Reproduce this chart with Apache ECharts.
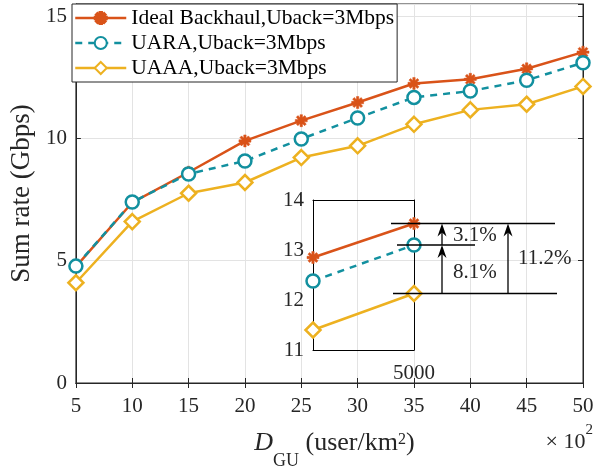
<!DOCTYPE html>
<html>
<head>
<meta charset="utf-8">
<script src="https://cdn.jsdelivr.net/npm/echarts@6/dist/echarts.min.js"></script>
<style>
  html, body { margin: 0; padding: 0; background: #fff; }
  #main { width: 605px; height: 471px; }
</style>
</head>
<body>
<div id="main"></div>
<script>
// x: D_GU in units of 10^2 user/km^2
var xValues = [5, 10, 15, 20, 25, 30, 35, 40, 45, 50];
var idealData = [4.76, 7.38, 8.62, 9.90, 10.73, 11.47, 12.25, 12.42, 12.85, 13.53];
var uaraData = [4.78, 7.40, 8.55, 9.08, 9.98, 10.84, 11.68, 11.94, 12.38, 13.10];
var uaaaData = [4.10, 6.60, 7.76, 8.20, 9.22, 9.70, 10.58, 11.17, 11.40, 12.13];
var yTicks = [0, 5, 10, 15];
var insetTicks = [11, 12, 13, 14];
var gainLabels = ['3.1%', '8.1%', '11.2%'];

var FONT = 'Liberation Serif';
var C_IDEAL = '#D95319';
var C_UARA = '#12909F';
var C_UAAA = '#EDB120';
// MATLAB-like '*' marker
var STAR = 'path://M0,4L10,4L10,6L0,6Z M4,0L6,0L6,10L4,10Z M2.2,0.8L9.2,7.8L7.8,9.2L0.8,2.2Z M9.2,2.2L2.2,9.2L0.8,7.8L7.8,0.8Z';

function pairs(xs, ys, k) {
    var out = [];
    for (var i = 0; i < xs.length; i++) out.push([xs[i] * (k || 1), ys[i]]);
    return out;
}
var insetX = xValues.slice(-2);
function lastTwo(arr) { return arr.slice(-2); }

var myChart = echarts.init(document.getElementById('main'));

var axisText = { fontFamily: FONT, fontSize: 21, color: '#262626' };
var frameLine = { show: true, lineStyle: { color: '#000', width: 1 } };

function mkSeries(name, data, color, symbol, size, dashed, xi, yi) {
    return {
        name: name,
        type: 'line',
        xAxisIndex: xi,
        yAxisIndex: yi,
        data: data,
        symbol: symbol,
        symbolSize: size,
        showSymbol: true,
        lineStyle: { color: color, width: 2.5, type: dashed ? [7, 6] : 'solid' },
        itemStyle: symbol === STAR
            ? { color: color, borderColor: color, borderWidth: 0.5 }
            : { color: '#fff', borderColor: color, borderWidth: 2.5 },
        emphasis: { disabled: true },
        z: 3,
        animation: false
    };
}

var option = {
    animation: false,
    grid: [
        { left: 72, right: 22, top: 4, bottom: 88, show: true, borderColor: '#262626', borderWidth: 1 },
        { left: 313, top: 200, width: 101, height: 150 }
    ],
    legend: {
        left: 72, top: 4, orient: 'vertical',
        itemWidth: 51, itemHeight: 15, itemGap: 3,
        padding: [3, 3, 3, 2],
        backgroundColor: '#fff', borderColor: '#262626', borderWidth: 1, borderRadius: 0,
        lineStyle: { width: 2.5 },
        textStyle: { fontFamily: FONT, fontSize: 21.5, color: '#000' },
        data: ['Ideal Backhaul,Uback=3Mbps', 'UARA,Uback=3Mbps', 'UAAA,Uback=3Mbps'],
        z: 10
    },
    xAxis: [
        {
            type: 'value', gridIndex: 0, min: 5, max: 50, interval: 5,
            axisLine: { show: true, lineStyle: { color: '#262626', width: 1 } },
            axisTick: { show: true, inside: true, length: 5, lineStyle: { color: '#262626' } },
            axisLabel: Object.assign({ margin: 13 }, axisText),
            splitLine: { show: true, lineStyle: { color: '#e3e3e3', width: 1 } }
        },
        {
            type: 'value', gridIndex: 0, position: 'top', min: 5, max: 50, interval: 5,
            axisLine: { show: true, lineStyle: { color: '#262626' } },
            axisTick: { show: true, inside: true, length: 5, lineStyle: { color: '#262626' } },
            axisLabel: { show: false }, splitLine: { show: false }
        },
        {
            type: 'value', gridIndex: 1, min: insetX[0] * 100, max: insetX[1] * 100, interval: 500,
            axisLine: frameLine,
            axisTick: { show: false },
            axisLabel: Object.assign({ margin: 13, showMinLabel: false,
                formatter: function (v) { return String(v); } }, axisText),
            splitLine: { show: false }
        },
        {
            type: 'value', gridIndex: 1, position: 'top', min: insetX[0] * 100, max: insetX[1] * 100, interval: 500,
            axisLine: frameLine, axisTick: { show: false }, axisLabel: { show: false }, splitLine: { show: false }
        }
    ],
    yAxis: [
        {
            type: 'value', gridIndex: 0, min: 0, max: 15.5, interval: 5,
            axisLine: { show: true, lineStyle: { color: '#262626' } },
            axisTick: { show: true, inside: true, length: 5, lineStyle: { color: '#262626' } },
            axisLabel: Object.assign({ margin: 9, showMaxLabel: false,
                formatter: function (v) { return yTicks.indexOf(v) >= 0 ? String(v) : ''; } }, axisText),
            splitLine: { show: true, lineStyle: { color: '#e3e3e3', width: 1 } },
            name: 'Sum rate (Gbps)', nameLocation: 'middle', nameGap: 35,
            nameTextStyle: { fontFamily: FONT, fontSize: 27, color: '#262626' }
        },
        {
            type: 'value', gridIndex: 0, position: 'right', min: 0, max: 15.5, interval: 5,
            axisLine: { show: true, lineStyle: { color: '#262626' } },
            axisTick: { show: true, inside: true, length: 5, lineStyle: { color: '#262626' } },
            axisLabel: { show: false }, splitLine: { show: false }
        },
        {
            type: 'value', gridIndex: 1, min: insetTicks[0], max: insetTicks[insetTicks.length - 1], interval: 1,
            axisLine: frameLine,
            axisTick: { show: false },
            axisLabel: Object.assign({ margin: 9 }, axisText),
            splitLine: { show: false }
        },
        {
            type: 'value', gridIndex: 1, position: 'right', min: insetTicks[0], max: insetTicks[insetTicks.length - 1], interval: 1,
            axisLine: frameLine, axisTick: { show: false }, axisLabel: { show: false }, splitLine: { show: false }
        }
    ],
    series: [
        mkSeries('Ideal Backhaul,Uback=3Mbps', pairs(xValues, idealData), C_IDEAL, STAR, 12, false, 0, 0),
        mkSeries('UARA,Uback=3Mbps', pairs(xValues, uaraData), C_UARA, 'circle', 13, true, 0, 0),
        mkSeries('UAAA,Uback=3Mbps', pairs(xValues, uaaaData), C_UAAA, 'diamond', 15, false, 0, 0),
        mkSeries('Ideal Backhaul,Uback=3Mbps', pairs(insetX, lastTwo(idealData), 100), C_IDEAL, STAR, 12, false, 2, 2),
        mkSeries('UARA,Uback=3Mbps', pairs(insetX, lastTwo(uaraData), 100), C_UARA, 'circle', 13, true, 2, 2),
        mkSeries('UAAA,Uback=3Mbps', pairs(insetX, lastTwo(uaaaData), 100), C_UAAA, 'diamond', 15, false, 2, 2)
    ]
};
myChart.setOption(option);

// annotation: reference lines, arrows and percentage gains next to the inset
function toInset(x, y) {
    return myChart.convertToPixel({ xAxisIndex: 2, yAxisIndex: 2 }, [x, y]);
}
var xr = toInset(insetX[1] * 100, 0)[0];
var yI = toInset(0, idealData[idealData.length - 1])[1];
var yR = toInset(0, uaraData[uaraData.length - 1])[1];
var yA = toInset(0, uaaaData[uaaaData.length - 1])[1];

function hline(x1, x2, y) {
    return { type: 'line', shape: { x1: x1, y1: y, x2: x2, y2: y }, style: { stroke: '#000', lineWidth: 1.3 }, z: 20 };
}
function arrow(x, yFrom, yTo) {
    return [
        { type: 'line', shape: { x1: x, y1: yFrom, x2: x, y2: yTo + 8 }, style: { stroke: '#000', lineWidth: 1.3 }, z: 20 },
        { type: 'polygon', shape: { points: [[x, yTo], [x - 4.5, yTo + 13], [x, yTo + 9], [x + 4.5, yTo + 13]] }, style: { fill: '#000' }, z: 21 }
    ];
}
function label(text, x, y) {
    return { type: 'text', x: x, y: y, style: { text: text, fontFamily: FONT, fontSize: 21, fill: '#262626', verticalAlign: 'middle', align: 'left' }, z: 21 };
}

// x-axis title with sub/superscript, laid out piece by piece
var measureCtx = document.createElement('canvas').getContext('2d');
function textWidth(t, size, italic) {
    measureCtx.font = (italic ? 'italic ' : '') + size + 'px "' + FONT + '"';
    return measureCtx.measureText(t).width;
}
var titleParts = [
    { t: 'D', size: 26, italic: true, base: 452 },
    { t: 'GU', size: 18, italic: false, base: 467 },
    { t: ' (user/km', size: 26, italic: false, base: 452 },
    { t: '2', size: 16, italic: false, base: 445 },
    { t: ')', size: 26, italic: false, base: 452 }
];
var plotMid = (myChart.convertToPixel({ xAxisIndex: 0 }, xValues[0]) +
               myChart.convertToPixel({ xAxisIndex: 0 }, xValues[xValues.length - 1])) / 2;
var totalW = 0;
titleParts.forEach(function (p) { p.w = textWidth(p.t, p.size, p.italic); totalW += p.w; });
var cx = plotMid + 5 - totalW / 2;
var titleEls = titleParts.map(function (p) {
    var el = {
        type: 'text', x: cx, y: p.base - 0.33 * p.size,
        style: { text: p.t, fontFamily: FONT, fontSize: p.size, fontStyle: p.italic ? 'italic' : 'normal',
                 fill: '#262626', verticalAlign: 'middle', align: 'left' }
    };
    cx += p.w;
    return el;
});

var ax1 = xr + 28, ax2 = xr + 94;
var elements = [
    hline(xr - 23, xr + 141, yI),
    hline(xr - 17, xr + 61, yR),
    hline(xr - 21, xr + 143, yA)
].concat(arrow(ax1, yA, yR), arrow(ax1, yR, yI), arrow(ax2, yA, yI), [
    label(gainLabels[0], xr + 39, (yI + yR) / 2 + 1),
    label(gainLabels[1], xr + 39, (yR + yA) / 2 + 3),
    label(gainLabels[2], xr + 104, (yI + yA) / 2),
    {
        type: 'text', right: 12, top: 423,
        style: {
            text: '{n|\u00d7 10}{sup|2}', fontFamily: FONT, fill: '#262626',
            rich: {
                n: { fontFamily: FONT, fontSize: 22, lineHeight: 30, verticalAlign: 'bottom' },
                sup: { fontFamily: FONT, fontSize: 15, lineHeight: 15, verticalAlign: 'top' }
            }
        }
    }
], titleEls);
myChart.setOption({ graphic: elements });

window.addEventListener('resize', function () {
    myChart.resize();
});
</script>
</body>
</html>
